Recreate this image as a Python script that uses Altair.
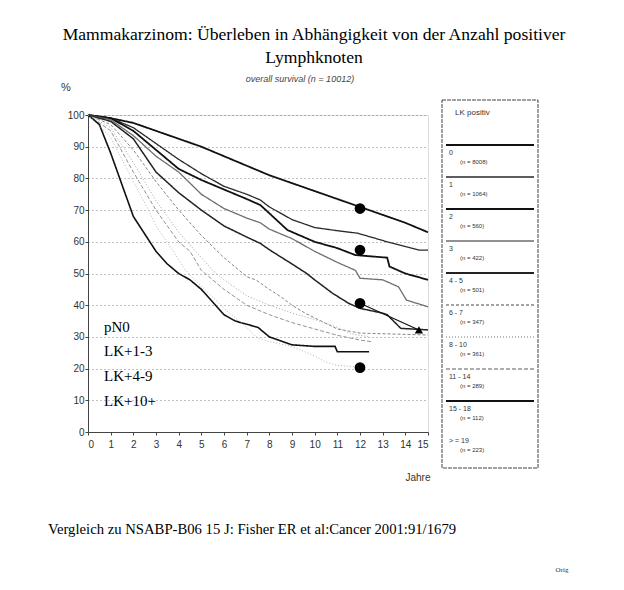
import altair as alt
import pandas as pd

# ---------------- data ----------------
series_names = ["0", "1", "2", "3", "4 - 5", "6 - 7", "8 - 10", "11 - 14", "15 - 18", "> = 19"]
series_n = [8008, 1064, 560, 422, 501, 347, 361, 289, 112, 223]

yrs_0 = [0, 1, 2, 3, 4, 5, 6, 7, 8, 9, 10, 11, 12, 13, 14, 15]
surv_0 = [100, 99, 97.5, 95, 92.5, 90, 87, 84, 81, 78.5, 76, 73.5, 71, 68.5, 66, 63]

yrs_1 = [0, 1, 2, 3, 4, 5, 6, 7, 7.6, 8, 9, 10, 11, 11.9, 13.2, 14.6, 15]
surv_1 = [100, 99, 96, 91, 86, 81.5, 77.5, 75, 73.2, 71, 67, 64.5, 63.5, 62.7, 60, 57.4, 57.4]

yrs_2 = [0, 1, 2, 3, 4, 5, 6, 7, 7.6, 8, 8.8, 10, 11, 11.8, 13.2, 13.3, 14, 15]
surv_2 = [100, 99, 95, 89, 83, 79.5, 76.5, 73.5, 71.6, 69, 63.7, 60, 58, 55.8, 55, 52.2, 50, 48]

yrs_3 = [0, 1, 2, 3, 4, 5, 6, 7, 7.6, 8, 9, 10, 11, 11.8, 12, 13, 13.7, 14.05, 15]
surv_3 = [100, 98.5, 93.5, 87, 82, 75, 70.5, 67.5, 66, 64, 61, 57, 53.5, 51, 48.5, 48, 45.8, 41.6, 39.5]

yrs_4 = [0, 1, 2, 3, 4, 5, 6, 7, 7.6, 8, 9, 9.65, 10, 10.8, 11.5, 12, 13, 13.2, 13.8, 15]
surv_4 = [100, 98, 92.5, 82, 75.5, 70, 65, 61.5, 59.5, 57.5, 53, 50, 48, 43.7, 40.6, 39, 37.5, 37, 32.7, 32.2]

yrs_5 = [0, 1, 2, 3, 4, 5, 6, 7, 7.4, 8, 8.5, 9, 9.6, 10, 11, 12, 13, 14, 15]
surv_5 = [100, 97, 89, 79, 70, 62, 55, 49, 48, 45, 42.7, 40, 37.4, 36, 32.5, 31.2, 31, 30.8, 30.6]

yrs_6 = [0, 1, 2, 3, 4, 5, 5.5, 6, 7, 8, 9, 10, 11, 11.6, 12.4]
surv_6 = [100, 96, 85, 73, 63, 55, 51, 48, 43, 40, 37.5, 35.5, 33, 31, 30]

yrs_7 = [0, 1, 2, 3, 4, 4.5, 5, 6, 7, 8, 9, 10, 11, 12, 12.5]
surv_7 = [100, 95, 82, 70, 60, 57, 51, 45, 40, 37, 34.5, 32.5, 30.5, 29, 28.5]

yrs_8 = [0, 0.5, 1, 1.5, 2, 2.5, 3, 3.5, 4, 4.5, 5, 5.5, 6, 6.5, 7, 7.5, 8, 9, 10, 10.9, 11, 12.4]
surv_8 = [100, 97, 88, 78, 68, 62.5, 57, 53, 50, 48, 45, 41, 37, 35, 34, 33, 30, 27.5, 27, 27, 25.3, 25.3]

yrs_9 = [0, 1, 2, 2.6, 3, 3.76, 4.3, 5, 6, 7, 7.4, 8, 9, 10, 10.5, 11, 11.8]
surv_9 = [100, 93, 79, 71, 65, 57, 51, 46, 39, 33, 30, 28.5, 27, 24, 22, 21, 20.6]

series_years = [yrs_0, yrs_1, yrs_2, yrs_3, yrs_4, yrs_5, yrs_6, yrs_7, yrs_8, yrs_9]
series_surv = [surv_0, surv_1, surv_2, surv_3, surv_4, surv_5, surv_6, surv_7, surv_8, surv_9]

# NSABP-B06 comparison points (12 years) and 15-year marker
nsabp_years = [12, 12, 12, 12]
nsabp_surv = [70.5, 57.4, 40.6, 20.3]
ref_years = [12, 14.6]
ref_surv = [40.6, 32.2]
tri_years = [14.6]
tri_surv = [32.2]

group_labels = ["pN0", "LK+1-3", "LK+4-9", "LK+10+"]

title_line1 = "Mammakarzinom: Überleben in Abhängigkeit von der Anzahl positiver"
title_line2 = "Lymphknoten"
subtitle = "overall survival (n = 10012)"
footer = "Vergleich zu  NSABP-B06 15 J: Fisher ER et al:Cancer 2001:91/1679"
legend_title = "LK positiv"

# ---------------- styles ----------------
colors = ["#111111", "#2a2a2a", "#111111", "#6e6e6e", "#222222", "#858585", "#a5a5a5", "#939393", "#111111", "#b5b5b5"]
widths = [1.8, 1.3, 1.8, 1.3, 1.5, 1.0, 1.0, 1.0, 1.6, 1.0]
dashes = [[1, 0], [1, 0], [1, 0], [1, 0], [1, 0], [3, 2], [1, 2], [4, 2], [1, 0], [1, 2]]

rows = []
for name, ys, ss in zip(series_names, series_years, series_surv):
    for yv, sv in zip(ys, ss):
        rows.append({"series": name, "year": yv, "surv": sv})
df = pd.DataFrame(rows)

X = alt.X("year:Q", scale=alt.Scale(domain=[0, 15], nice=False),
          axis=alt.Axis(values=list(range(16)), title=None, grid=False, tickSize=3,
                        labelFontSize=10, labelColor="#333", labelPadding=4,
                        domainColor="#444", tickColor="#444", labelFont="Liberation Sans"))
Y = alt.Y("surv:Q", scale=alt.Scale(domain=[0, 100], nice=False),
          axis=alt.Axis(values=list(range(0, 101, 10)), title=None, grid=True, gridDash=[1, 3],
                        gridColor="#666", gridWidth=0.8, tickSize=3, labelFontSize=10,
                        labelColor="#333", labelPadding=1, domainColor="#444", tickColor="#444",
                        labelFont="Liberation Sans"))

main_layers = []
for name, c, w, d in zip(series_names, colors, widths, dashes):
    main_layers.append(
        alt.Chart(df).transform_filter(alt.datum.series == name)
        .mark_line(color=c, strokeWidth=w, strokeDash=d)
        .encode(x=X, y=Y, order="year:Q")
    )

ref_df = pd.DataFrame({"year": ref_years, "surv": ref_surv})
main_layers.append(alt.Chart(ref_df).mark_line(color="#111", strokeWidth=1.2).encode(x=X, y=Y))

dots_df = pd.DataFrame({"year": nsabp_years, "surv": nsabp_surv})
main_layers.append(alt.Chart(dots_df).mark_point(shape="circle", filled=True, size=115,
                                                 color="#000", opacity=1).encode(x=X, y=Y))
tri_df = pd.DataFrame({"year": tri_years, "surv": tri_surv})
main_layers.append(alt.Chart(tri_df).mark_point(shape="triangle-up", filled=True, size=70,
                                                color="#000", opacity=1).encode(x=X, y=Y))

one = pd.DataFrame({"k": [0]})


def txt(text, x, y, size, font="Liberation Serif", align="left", color="#000", style="normal"):
    return alt.Chart(pd.DataFrame({"t": [text]})).mark_text(
        align=align, baseline="middle", fontSize=size, font=font, color=color, fontStyle=style
    ).encode(x=alt.value(x), y=alt.value(y), text="t:N")


label_y = [212, 236, 261, 286]
for lab, yy in zip(group_labels, label_y):
    main_layers.append(txt(lab, 16, yy, 15))

main_layers += [
    txt(title_line1, 226, -80, 17.6, align="center"),
    txt(title_line2, 226, -57, 17.6, align="center"),
    txt(subtitle, 212, -36, 9, font="Liberation Sans", align="center", color="#444", style="italic"),
    txt("%", -22, -27, 11, font="Liberation Sans", align="center", color="#333"),
    txt("Jahre", 330, 363, 10, font="Liberation Sans", align="center", color="#333"),
    txt(footer, -40, 415, 14.7),
    txt("Orig", 474, 455, 7, align="center", color="#333"),
]

main = alt.layer(*main_layers)

# ---------------- legend panel ----------------
leg_df = pd.DataFrame({"i": list(range(len(series_names))), "label": series_names,
                       "ntext": ["(n = %d)" % n for n in series_n]})
LY = alt.Y("i:Q", scale=alt.Scale(domain=[0, 10], range=[30, 350]), axis=None)

leg_layers = [
    alt.Chart(one).mark_rect(fillOpacity=0, stroke="#444", strokeWidth=1, strokeDash=[4, 1])
    .encode(x=alt.value(354), x2=alt.value(450), y=alt.value(-15), y2=alt.value(353)),
    alt.Chart(one).mark_text(align="left", baseline="middle", fontSize=8, font="Liberation Sans",
                             color="#333").encode(x=alt.value(367), y=alt.value(-2),
                                                   text=alt.value(legend_title)),
]
for k, (name, c, w, d) in enumerate(zip(series_names, colors, widths, dashes)):
    if k == len(series_names) - 1:
        continue
    leg_layers.append(
        alt.Chart(leg_df).transform_filter(alt.datum.label == name)
        .mark_rule(color=c, strokeWidth=w + 0.3, strokeDash=d)
        .encode(x=alt.value(358), x2=alt.value(446), y=LY)
    )
leg_layers.append(alt.Chart(leg_df).mark_text(align="left", baseline="middle", dy=8, fontSize=7,
                                              font="Liberation Sans", color="#333")
                  .encode(x=alt.value(361), y=LY, text="label:N"))
leg_layers.append(alt.Chart(leg_df).mark_text(align="left", baseline="middle", dy=17, fontSize=6,
                                              font="Liberation Sans", color="#333")
                  .encode(x=alt.value(372), y=LY, text="ntext:N"))
legend = alt.layer(*leg_layers)

chart = (
    alt.layer(main, legend)
    .resolve_scale(x="independent", y="independent")
    .properties(width=340, height=317, autosize=alt.AutoSizeParams(type="none"),
                padding={"left": 80, "top": 107, "right": 188, "bottom": 150})
    .configure_view(stroke=None)
    .configure(background="white")
)

chart.save("out.html", embed_options={"renderer": "svg", "actions": False})
